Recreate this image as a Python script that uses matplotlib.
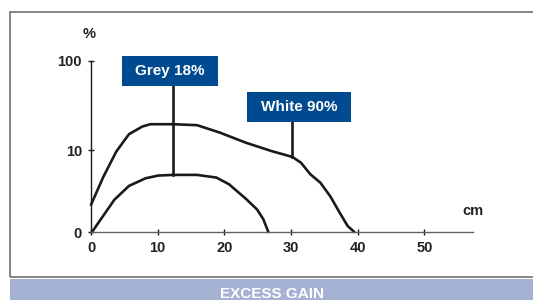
import numpy as np
import matplotlib
matplotlib.use('Agg')
import matplotlib.pyplot as plt
from matplotlib.patches import Rectangle
import matplotlib.transforms as mtransforms

plt.rcParams['font.family'] = ['Liberation Sans', 'DejaVu Sans']

# distance (cm) vs excess gain (%)
white_x = [0, 1.85, 3.8, 5.7, 7.7, 8.9, 12.3, 15.9, 19.3, 23.2, 27.1, 30.2, 31.5, 32.9, 34.4, 35.9, 37.3, 38.5, 39.5]
white_y = [1.5, 4.5, 9.7, 15.6, 19.1, 20.3, 20.3, 19.8, 16.3, 12.4, 9.8, 8.3, 7.0, 4.9, 3.7, 2.2, 0.96, 0.25, 0]
grey_x = [0.15, 3.5, 5.7, 8.2, 10.1, 12.3, 15.9, 18.8, 20.7, 23.2, 24.9, 25.85, 26.6]
grey_y = [0, 1.9, 3.3, 4.3, 4.7, 4.8, 4.8, 4.4, 3.5, 2.0, 1.17, 0.58, 0]

labels = ['Grey 18%', 'White 90%']
leader_x = [12.3, 30.2]
leader_y = [4.8, 8.3]

xticks = [0, 10, 20, 30, 40, 50]
yticks = [0, 10, 100]

W, H = 533, 300
fig = plt.figure(figsize=[W / 100, H / 100], dpi=100)

# outer frame and bottom band
fig.patches.append(Rectangle((10 / W, 1 - 277 / H), 1.0, (277 - 12) / H, transform=fig.transFigure,
                             fill=False, edgecolor='#707070', linewidth=1.2))
fig.patches.append(Rectangle((10 / W, 0), 1.0, (300 - 278.5) / H, transform=fig.transFigure,
                             facecolor='#a6b2d4', edgecolor='none'))
fig.text(272 / W, 2 / H, 'EXCESS GAIN', color='white', fontsize=11, fontweight='bold',
         ha='center', va='baseline')

ax = fig.add_axes([91 / W, 1 - 232 / H, (473 - 91) / W, (232 - 61) / H])
fwd = lambda v: np.log10(1 + np.clip(v, 0, None) / 1.6)
inv = lambda f: 1.6 * (10 ** f - 1)
ax.set_yscale('function', functions=(fwd, inv))
ax.set_xlim(0, 57.3)
ax.set_ylim(0, 100)

ax.plot(white_x, white_y, color='#1a1a1a', linewidth=1.9, solid_joinstyle='round',
        solid_capstyle='round', clip_on=False)
ax.plot(grey_x, grey_y, color='#1a1a1a', linewidth=1.9, solid_joinstyle='round',
        solid_capstyle='round', clip_on=False)

ax.spines['top'].set_visible(False)
ax.spines['right'].set_visible(False)
ax.spines['left'].set_color('#1a1a1a')
ax.spines['bottom'].set_color('#606060')
ax.spines['left'].set_linewidth(1.0)
ax.spines['bottom'].set_linewidth(1.0)

ax.set_xticks(xticks)
ax.set_yticks(yticks)
ax.set_xticklabels([str(t) for t in xticks])
ax.set_yticklabels([str(t) for t in yticks])
ax.tick_params(axis='both', direction='inout', length=5, width=1, color='#1a1a1a',
               labelsize=10.5, labelcolor='#222222')
ax.tick_params(axis='x', pad=4)
ax.tick_params(axis='y', pad=4)
for lab in ax.get_xticklabels() + ax.get_yticklabels():
    lab.set_fontweight('bold')
ax.minorticks_off()

ax.text(-0.005, 1.155, '%', transform=ax.transAxes, ha='center', va='center',
        fontsize=10.5, fontweight='bold', color='#222222')
ax.text(1.0, 0.12, 'cm', transform=ax.transAxes, ha='center', va='center',
        fontsize=10.5, fontweight='bold', color='#222222')

# label boxes (axes fraction) and leader lines
boxes = [(0.0804, 0.854, 0.2526, 0.175), (0.408, 0.645, 0.272, 0.174)]
trans = mtransforms.blended_transform_factory(ax.transData, ax.transAxes)
for lab, (bx, by, bw, bh), lx, ly in zip(labels, boxes, leader_x, leader_y):
    ax.add_patch(Rectangle((bx, by), bw, bh, transform=ax.transAxes, facecolor='#004a8f',
                           edgecolor='none', clip_on=False, zorder=3))
    ax.text(bx + bw / 2, by + bh / 2, lab, transform=ax.transAxes, ha='center', va='center',
            color='white', fontsize=11, fontweight='bold', zorder=4)
    yfrac = ax.transAxes.inverted().transform(ax.transData.transform((lx, ly)))[1]
    ax.plot([lx, lx], [yfrac, by], transform=trans, color='#1a1a1a', linewidth=1.9,
            clip_on=False, zorder=2)

fig.savefig('out.png', dpi=100)
